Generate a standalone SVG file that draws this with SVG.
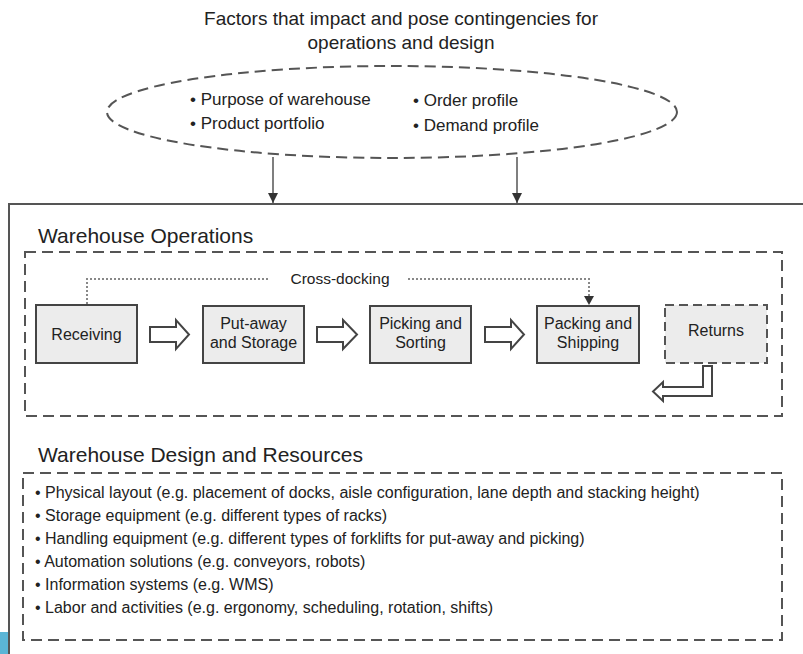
<svg xmlns="http://www.w3.org/2000/svg" width="803" height="654" viewBox="0 0 803 654">
<style>
text{font-family:"Liberation Sans",Arial,sans-serif;fill:#222}
.title{font-size:19px}
.el{font-size:17px}
.head{font-size:21px}
.box{fill:#ececec;stroke:#444;stroke-width:2}
.btxt{font-size:16px;text-anchor:middle}
.dash{fill:none;stroke:#555;stroke-width:2;stroke-dasharray:11 6}
.hollow{fill:#fff;stroke:#444;stroke-width:2;stroke-linejoin:miter}
.list{font-size:16px}
.conn{stroke:#555;stroke-width:1.5;fill:none}
.dot{stroke:#888;stroke-width:2;stroke-dasharray:2 2;fill:none}
</style>
<defs>
<marker id="ah" viewBox="0 0 10 10" refX="10" refY="5" markerWidth="10" markerHeight="10" markerUnits="userSpaceOnUse" orient="auto">
<path d="M0,0 L10,5 L0,10 z" fill="#333"/>
</marker>
</defs>
<rect width="803" height="654" fill="#fff"/>
<rect x="0" y="632" width="8" height="22" fill="#5bb5d6"/>
<g id="title">
<text class="title" x="401" y="25" text-anchor="middle">Factors that impact and pose contingencies for</text>
<text class="title" x="401" y="49" text-anchor="middle">operations and design</text>
</g>
<g id="factors">
<ellipse cx="392" cy="112" rx="285" ry="46" class="dash" fill="none"/>
<text class="el" x="190" y="105">• Purpose of warehouse</text>
<text class="el" x="190" y="129">• Product portfolio</text>
<text class="el" x="413" y="106">• Order profile</text>
<text class="el" x="413" y="131">• Demand profile</text>
</g>
<g id="frame">
<rect x="9" y="204" width="810" height="470" fill="none" stroke="#555" stroke-width="2"/>
</g>
<g id="operations">
<text class="head" x="38" y="243">Warehouse Operations</text>
<rect x="25" y="252" width="757" height="164" class="dash"/>
</g>
<g id="receiving">
<rect x="36" y="305" width="101" height="58" class="box"/>
<text class="btxt" x="86.5" y="340">Receiving</text>
</g>
<g id="putaway">
<rect x="203" y="306" width="101" height="57" class="box"/>
<text class="btxt" x="253.5" y="329">Put-away</text>
<text class="btxt" x="253.5" y="348">and Storage</text>
</g>
<g id="picking">
<rect x="370" y="306" width="101" height="57" class="box"/>
<text class="btxt" x="420.5" y="329">Picking and</text>
<text class="btxt" x="420.5" y="348">Sorting</text>
</g>
<g id="packing">
<rect x="537" y="306" width="102" height="57" class="box"/>
<text class="btxt" x="588" y="329">Packing and</text>
<text class="btxt" x="588" y="348">Shipping</text>
</g>
<g id="returns">
<rect x="665" y="305" width="102" height="58" fill="#ececec" stroke="#555" stroke-width="2" stroke-dasharray="9 5"/>
<text class="btxt" x="716" y="336">Returns</text>
</g>
<g id="design">
<text class="head" x="38" y="462">Warehouse Design and Resources</text>
<rect x="23" y="473" width="759" height="167" class="dash"/>
<text class="list" x="35" y="498">• Physical layout (e.g. placement of docks, aisle configuration, lane depth and stacking height)</text>
<text class="list" x="35" y="521">• Storage equipment (e.g. different types of racks)</text>
<text class="list" x="35" y="544">• Handling equipment (e.g. different types of forklifts for put-away and picking)</text>
<text class="list" x="35" y="567">• Automation solutions (e.g. conveyors, robots)</text>
<text class="list" x="35" y="590">• Information systems (e.g. WMS)</text>
<text class="list" x="35" y="613">• Labor and activities (e.g. ergonomy, scheduling, rotation, shifts)</text>
</g>
<g id="connectors">
<line x1="273" y1="157" x2="273" y2="203" class="conn" marker-end="url(#ah)"/>
<line x1="517" y1="157" x2="517" y2="203" class="conn" marker-end="url(#ah)"/>
<polygon class="hollow" points="150,327 176,327 176,320 189,334.5 176,349 176,342 150,342"/>
<polygon class="hollow" points="317,327 343,327 343,320 357,334.5 343,349 343,342 317,342"/>
<polygon class="hollow" points="485,327 511,327 511,320 524,334.5 511,349 511,342 485,342"/>
<polygon class="hollow" points="703,366 712,366 712,396 663,396 663,401 653,391.5 663,382 663,387 703,387"/>
<polyline class="dot" points="87,304 87,279 270,279"/>
<text x="340" y="284" font-size="15.5" text-anchor="middle">Cross-docking</text>
<polyline class="dot" points="408,279 589,279 589,297"/>
<path d="M584,296 L594,296 L589,305 z" fill="#333"/>
</g>
</svg>
